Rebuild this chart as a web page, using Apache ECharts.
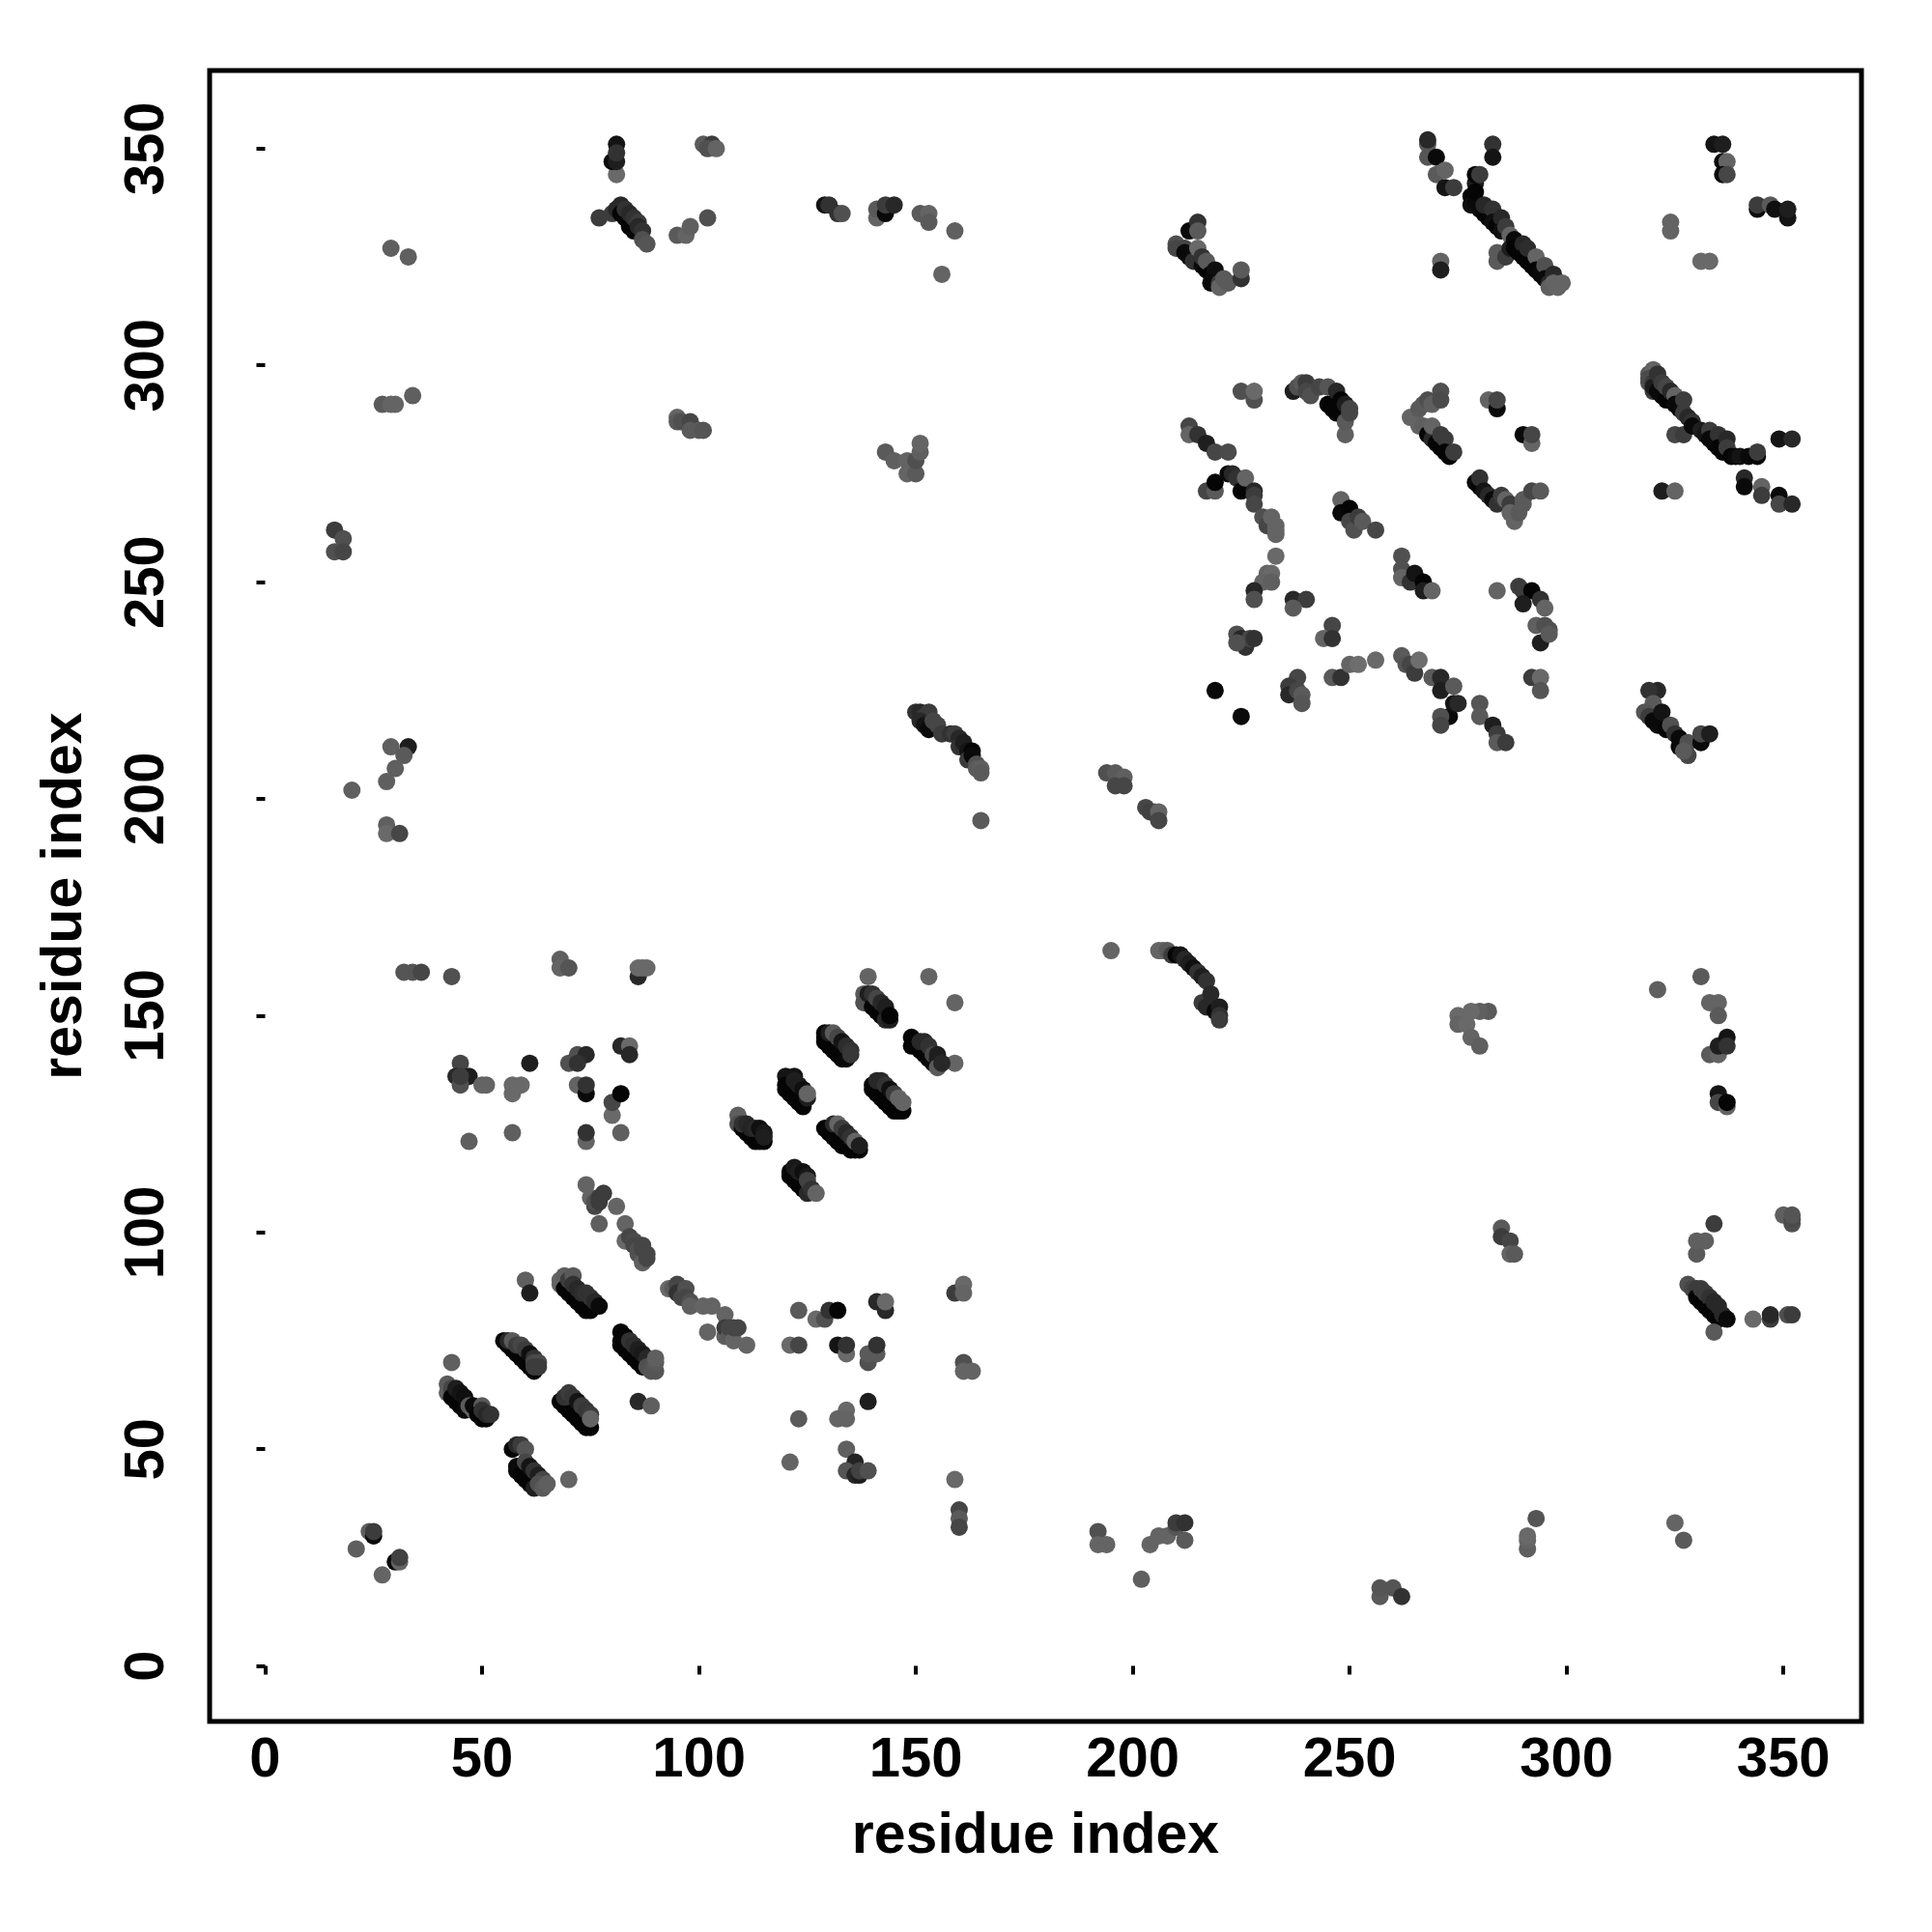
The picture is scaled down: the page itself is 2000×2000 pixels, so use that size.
<!DOCTYPE html>
<html><head><meta charset="utf-8">
<style>html,body{margin:0;padding:0;background:#fff}#c{width:2000px;height:2000px}</style>
<script src="https://cdn.jsdelivr.net/npm/echarts@6/dist/echarts.min.js"></script></head>
<body><div id="c"></div>
<script>
// each point: [residue i, residue j, grey level of the contact]
const tickValues=[0,50,100,150,200,250,300,350];
const strayLowLeft=[[21,27,95],[24,31,95],[25,30,10],[25,31,60],[27,21,100],[30,24,10],[31,24,100],[31,25,65]];
const strandA=[[42,65,90],[42,63,95],[43,64,70],[43,62,5],[44,61,5],[45,60,5],[46,59,10],[44,64,30],[45,63,20],[46,62,15],[47,60,90],[48,59,100],[49,59,80],[48,60,10],[50,60,90],[49,58,5],[50,57,5],[51,57,5],[50,59,50],[51,58,40],[52,58,50],[43,70,95]];
const strandB=[[57,50,5],[58,51,40],[59,51,60],[60,50,85],[58,46,10],[58,45,10],[59,44,5],[60,43,5],[61,42,5],[62,41,30],[60,47,70],[61,46,20],[62,45,50],[63,44,30],[64,43,70],[63,42,80],[64,41,90],[65,42,95],[70,43,100]];
const strandC=[[55,75,5],[56,74,5],[57,73,5],[58,72,5],[59,71,5],[60,70,5],[61,69,5],[62,68,5],[56,75,40],[57,75,90],[58,74,60],[59,74,70],[60,73,60],[61,72,15],[62,71,50],[62,70,70],[63,70,75],[62,69,60],[63,69,60],[60,89,95],[61,86,30]];
const strandD=[[68,88,100],[68,89,100],[69,90,95],[69,87,5],[70,86,5],[71,85,5],[72,84,5],[73,83,5],[74,82,5],[75,82,5],[70,89,60],[71,90,90],[71,88,50],[72,87,40],[73,86,45],[74,86,50],[75,85,50],[76,84,40],[77,83,10]];
const strandE=[[82,77,5],[83,76,5],[82,74,5],[82,75,5],[83,73,5],[84,72,5],[85,71,5],[86,70,5],[87,69,5],[84,75,50],[85,74,45],[86,73,30],[87,72,25],[88,71,40],[88,69,80],[89,68,85],[90,68,85],[90,70,90],[90,71,95],[86,61,40],[89,60,95]];
const strandF=[[68,61,5],[69,60,5],[70,59,5],[71,58,5],[72,57,5],[73,56,5],[74,55,5],[75,55,5],[69,62,50],[70,63,60],[71,62,55],[72,61,20],[73,60,60],[74,59,55],[75,58,60],[75,57,100]];
const arcLow=[[74,111,100],[75,108,100],[76,106,70],[76,107,80],[77,108,60],[78,109,60],[77,107,60],[81,106,100],[77,102,95],[83,102,100],[83,98,105],[84,99,70],[85,98,75],[85,97,70],[86,96,80],[86,95,80],[87,94,85],[87,96,70],[87,97,70],[87,93,95],[88,95,70],[88,94,70],[93,87,105],[94,87,90],[95,88,70],[95,86,50],[96,85,70],[97,87,80],[97,85,70],[98,84,80],[98,83,95],[101,83,100],[103,83,100],[106,81,100],[102,77,100],[106,76,95],[106,78,60],[107,76,90],[107,78,70],[108,75,100],[108,78,70],[109,78,70],[111,74,100]];
const strayMidLeft=[[68,163,95],[68,161,100],[70,161,85],[86,159,40],[86,161,105],[87,161,105],[88,161,105],[139,159,100],[153,159,100],[159,153,100],[159,139,100],[61,139,30],[70,139,80],[72,141,80],[74,141,40],[72,139,50],[82,143,40],[84,143,105],[84,141,40],[51,134,100],[57,134,105],[59,134,105],[57,132,105],[72,134,100],[74,132,10],[74,134,50],[80,127,105],[80,130,70],[82,132,5],[57,123,95],[74,121,100],[74,123,50],[82,123,95],[16,262,60],[18,260,80],[16,257,80],[18,257,70],[20,202,95],[29,212,95],[33,212,30],[32,210,90],[30,207,95],[28,204,95],[28,194,95],[28,192,105],[31,192,70],[29,327,95],[33,325,95],[27,291,90],[29,291,100],[30,291,100],[34,293,95],[32,160,85],[34,160,85],[36,160,70],[43,159,80],[45,139,70],[44,136,40],[47,136,30],[45,134,80],[45,136,60],[47,121,95],[50,134,100]];
const blockA=[[109,127,95],[109,125,80],[110,124,5],[111,123,5],[112,122,5],[113,121,5],[114,121,5],[115,121,5],[110,125,50],[111,125,40],[112,124,35],[113,124,40],[114,124,15],[115,123,25],[115,122,30]];
const blockB=[[120,136,20],[120,134,5],[120,133,5],[121,132,5],[122,131,5],[123,130,5],[124,129,5],[122,136,20],[122,135,30],[123,134,30],[124,133,15],[125,131,30],[125,132,100]];
const blockC=[[121,114,5],[121,113,5],[122,112,5],[123,111,5],[124,110,5],[125,109,40],[122,115,25],[123,114,30],[124,114,15],[125,113,25],[125,112,65],[126,110,50],[127,109,100]];
const blockD=[[129,146,5],[129,145,5],[129,144,5],[130,143,5],[131,142,5],[132,141,5],[133,140,5],[134,140,10],[130,146,30],[131,146,90],[132,145,70],[133,144,20],[134,143,45],[135,142,50],[135,141,55]];
const blockE=[[129,124,5],[130,123,5],[131,122,5],[132,121,5],[133,120,5],[134,120,5],[135,119,5],[136,119,5],[137,119,5],[131,125,40],[132,125,100],[133,124,60],[134,123,40],[135,122,50],[136,121,100],[137,120,30]];
const blockF=[[138,155,90],[138,153,80],[139,155,30],[140,152,5],[141,151,5],[142,150,5],[143,149,40],[144,149,30],[140,155,50],[141,154,70],[142,153,40],[143,152,30],[144,150,5]];
const blockG=[[140,134,5],[140,133,5],[141,132,5],[142,131,5],[143,130,5],[144,129,5],[145,128,5],[146,128,5],[147,128,5],[141,135,40],[142,135,40],[143,134,50],[144,133,15],[145,132,60],[146,131,100],[147,130,100]];
const blockH=[[149,143,5],[149,145,5],[150,143,5],[151,142,5],[152,141,5],[153,140,5],[154,139,10],[151,144,40],[152,144,40],[153,143,50],[154,141,70],[155,141,30],[155,140,30],[155,138,90],[156,139,40]];
const lowMid=[[123,82,90],[127,80,105],[129,80,80],[130,82,50],[132,82,5],[141,84,40],[143,82,40],[143,84,105],[121,74,105],[123,74,70],[132,74,20],[134,72,105],[134,74,50],[139,70,80],[139,72,90],[141,72,90],[141,74,50],[139,61,30],[134,59,105],[132,57,100],[134,57,100],[123,57,90],[121,47,100],[134,50,95],[136,47,35],[134,45,85],[136,44,40],[137,44,30],[137,45,65],[139,45,80],[159,43,105],[159,86,60],[161,88,105],[161,86,100],[161,70,80],[161,68,100],[163,68,100],[160,36,70],[160,34,90],[160,32,70]];
const lowRow=[[192,31,80],[192,28,100],[194,28,100],[202,20,95],[204,28,100],[206,30,100],[208,30,100],[210,32,85],[210,33,60],[212,29,90],[212,33,50],[257,16,90],[257,18,85],[260,18,85],[262,16,50],[291,27,95],[291,29,100],[291,30,105],[293,34,85],[325,33,100],[327,29,90],[285,101,90],[285,99,60],[287,98,70],[287,95,100],[288,95,90],[334,102,60],[330,95,90],[330,98,95],[332,98,95],[350,104,95],[352,102,80],[352,103,75],[352,104,85]];
const lowRight=[[328,88,80],[329,87,70],[330,87,60],[330,85,5],[331,84,5],[332,83,5],[331,87,60],[332,86,60],[333,85,50],[333,82,5],[334,81,5],[335,80,5],[334,84,40],[335,83,40],[336,81,40],[337,80,10],[334,77,90],[343,80,105],[347,80,60],[347,81,40],[351,81,80],[352,81,60]];
const rightColumn=[[331,159,90],[333,153,100],[335,153,100],[335,150,90],[321,156,95],[333,141,90],[335,141,100],[335,143,30],[337,145,20],[337,143,50],[335,132,20],[335,130,70],[337,129,100],[337,130,5],[282,151,90],[280,151,95],[278,151,105],[275,150,105],[275,148,100],[277,148,105],[278,145,100],[280,143,95]];
const midDiag=[[195,165,100],[206,165,100],[207,165,100],[208,165,90],[209,164,60],[210,164,5],[211,164,20],[212,163,40],[213,162,30],[214,161,15],[215,160,50],[216,159,30],[217,158,50],[216,153,60],[217,152,40],[218,155,40],[219,151,10],[220,152,30],[220,150,50],[220,149,60]];
const upperMid=[[194,206,80],[196,206,90],[198,205,95],[196,203,70],[198,203,70],[203,198,70],[205,197,90],[204,197,65],[206,197,100],[206,195,70],[150,220,50],[151,220,40],[152,219,60],[153,220,60],[151,218,40],[152,217,20],[153,216,10],[154,218,70],[155,217,70],[156,215,60],[158,215,50],[159,215,60],[160,214,40],[160,212,50],[161,213,30],[162,211,20],[163,211,5],[162,209,60],[163,210,10],[164,208,80],[164,207,90],[165,207,95],[165,206,90],[165,195,90]];
const topLeft=[[77,334,60],[81,344,105],[80,347,10],[81,347,30],[81,351,20],[81,349,50],[80,335,60],[81,336,40],[82,337,40],[82,335,5],[83,334,5],[84,332,5],[85,331,5],[83,336,50],[84,335,40],[85,334,50],[86,333,60],[86,332,40],[87,331,50],[87,329,80],[88,328,85],[95,330,90],[97,330,100],[98,332,95],[102,334,80],[101,351,90],[103,351,60],[102,350,80],[104,350,100],[129,337,20],[130,337,50],[132,335,50],[133,335,80],[141,334,100],[141,336,90],[143,335,10],[143,337,60],[145,337,40],[151,335,90],[153,335,100],[153,333,90],[159,331,95],[156,321,100],[95,288,100],[95,287,90],[96,287,80],[98,287,70],[98,285,90],[100,285,90],[101,285,85],[143,280,90],[145,278,95],[148,278,100],[148,275,100],[150,275,90],[150,278,80],[151,280,95],[151,282,100]];
const helixUpper=[[225,294,80],[228,292,80],[228,294,105],[237,294,30],[238,295,80],[239,296,90],[240,296,60],[240,294,70],[241,293,80],[243,295,70],[245,295,85],[245,291,5],[246,290,5],[247,289,5],[247,294,40],[248,292,5],[249,291,30],[249,284,95],[249,287,90],[250,290,70],[250,289,70],[213,286,70],[213,284,100],[215,284,50],[217,282,30],[219,280,70],[222,280,75]];
const helixCurve=[[217,271,70],[219,271,90],[219,273,5],[222,275,10],[223,275,40],[224,274,50],[225,271,5],[226,274,100],[228,271,40],[228,270,60],[228,268,70],[230,265,80],[231,263,70],[232,265,100],[233,263,100],[233,262,100],[233,261,100],[233,256,105],[231,252,100],[232,252,105],[230,250,100],[232,250,95],[228,248,40],[228,246,80],[237,246,40],[240,246,60],[237,244,90],[246,240,70],[244,237,100],[246,237,50],[224,238,80],[225,237,40],[226,235,50],[227,237,70],[228,237,50],[224,236,80]];
const arcMiddle=[[219,225,10],[225,219,10],[238,228,70],[236,226,60],[236,224,40],[238,225,70],[239,224,90],[239,222,85],[246,228,90],[248,228,50],[250,231,100],[252,231,110],[256,232,105],[262,233,90],[263,231,85],[264,231,70],[265,229,60],[266,232,110],[269,228,90],[271,228,40],[271,225,30],[274,226,90],[273,219,10],[271,219,80],[271,217,70],[274,222,20],[275,222,40],[280,222,85],[280,219,90],[283,217,30],[284,215,60],[284,213,90],[286,213,60],[292,228,60],[294,228,105],[294,225,85]];
const helixCentral=[[264,288,100],[265,288,100],[266,290,90],[267,291,90],[268,292,80],[269,291,95],[271,294,80],[271,292,75],[266,286,100],[267,286,95],[268,284,5],[269,283,40],[269,286,100],[270,282,5],[271,281,5],[271,284,60],[272,283,60],[272,280,5],[273,279,5],[274,280,60],[282,292,100],[284,290,10],[284,292,70],[290,284,10],[292,282,100],[292,284,70],[279,273,10],[280,272,5],[280,274,50],[281,271,20],[282,270,40],[283,269,10],[284,268,50],[285,270,60],[286,269,100],[287,268,60],[287,266,100],[288,264,100],[289,266,90],[290,269,90],[290,268,90],[292,271,70],[294,271,90]];
const strandLower=[[248,269,100],[248,266,10],[250,267,5],[250,264,70],[251,262,80],[252,265,60],[253,264,90],[256,262,70],[262,256,80],[262,253,80],[262,251,100],[264,250,50],[265,252,20],[267,250,5],[267,248,30],[269,248,100],[284,248,100],[289,249,60],[290,248,60],[292,248,5],[290,245,30],[294,246,50],[295,244,100],[294,236,30],[293,240,95],[295,240,80],[296,239,80],[296,238,90]];
const helixRightLow=[[321,225,40],[319,225,50],[320,222,90],[318,220,85],[319,219,60],[320,218,10],[321,217,10],[322,220,20],[323,216,5],[324,217,80],[325,215,50],[326,212,10],[326,214,10],[328,213,80],[328,210,70],[327,211,90],[331,213,10],[331,215,70],[333,215,30]];
const diagTopA=[[210,328,80],[210,327,70],[212,327,70],[212,326,10],[213,331,10],[213,325,10],[214,324,50],[215,333,50],[215,331,90],[215,327,105],[216,323,10],[216,325,50],[217,322,5],[217,324,90],[218,321,5],[219,322,15],[218,319,10],[220,319,60],[220,318,100],[221,320,90],[222,319,90],[225,320,50],[225,322,90]];
const diagTopB=[[268,351,90],[268,352,40],[268,348,85],[270,348,10],[270,344,90],[272,345,100],[272,341,20],[274,341,60],[271,324,100],[271,322,30],[283,351,50],[283,348,20],[278,339,5],[278,337,15],[279,338,10],[279,342,30],[279,340,5],[279,344,5],[280,344,60],[280,336,10],[281,335,5],[282,334,5],[281,337,40],[283,336,50],[283,333,15],[284,332,5],[285,334,40],[285,331,15],[286,332,60],[287,330,100],[284,326,90],[284,324,90],[286,325,60],[287,327,30],[288,329,10],[288,327,5],[289,326,5],[290,328,40],[290,325,5],[291,324,5],[291,327,45],[292,323,5],[293,325,100],[293,322,5],[294,321,10],[295,323,80],[295,320,10],[296,319,40],[297,321,40],[296,318,95],[297,319,100],[298,318,100],[299,319,100]];
const topRight=[[324,333,100],[324,331,100],[331,324,105],[333,324,105],[334,351,20],[336,351,30],[336,347,10],[337,347,100],[336,344,10],[337,344,70],[344,336,10],[344,337,60],[347,337,90],[348,336,15],[351,334,20],[351,336,30]];
const diagRight=[[319,298,90],[319,296,80],[320,299,100],[320,294,60],[319,297,75],[320,296,60],[320,295,30],[321,294,10],[322,293,10],[323,292,5],[321,298,50],[322,296,60],[323,295,70],[324,294,40],[325,293,100],[325,291,10],[326,290,10],[327,292,60],[327,289,60],[328,288,40],[329,287,50],[325,284,70],[327,284,60],[329,286,10],[331,285,30],[332,284,20],[333,285,60],[333,283,10],[334,282,10],[335,284,50],[335,281,5],[336,280,5],[337,283,40],[337,281,60],[338,279,5],[339,279,10],[340,279,20],[342,279,10],[344,279,5],[344,280,60],[349,283,20],[352,283,40],[322,271,30],[325,271,100],[341,274,40],[341,272,10],[345,272,100],[345,270,60],[349,270,10],[349,268,70],[352,268,40]];

const points=[].concat(strayLowLeft,strandA,strandB,strandC,strandD,strandE,strandF,arcLow,strayMidLeft,blockA,blockB,blockC,blockD,blockE,blockF,blockG,blockH,lowMid,lowRow,lowRight,rightColumn,midDiag,upperMid,topLeft,helixUpper,helixCurve,arcMiddle,helixCentral,strandLower,helixRightLow,diagTopA,diagTopB,topRight,diagRight);
const font='"Liberation Sans", Helvetica, Arial, sans-serif';
const chart=echarts.init(document.getElementById('c'),null,{renderer:'canvas'});
function axis(rotate,nameGap,margin,nameRotate){
  return {type:'value',min:-12.8,max:368,name:'residue index',nameLocation:'middle',nameGap:nameGap,nameRotate:nameRotate,
    nameTextStyle:{fontFamily:font,fontWeight:'bold',fontSize:59,color:'#000'},
    axisLine:{show:false},splitLine:{show:false},
    axisTick:{show:true,length:9,inside:false,lineStyle:{color:'#000',width:4},customValues:tickValues},
    axisLabel:{show:true,rotate:rotate,margin:margin,fontFamily:font,fontWeight:'bold',fontSize:58,color:'#000',customValues:tickValues,
      hideOverlap:false,showMinLabel:true,showMaxLabel:true}};
}
chart.setOption({animation:false,backgroundColor:'#fff',
  grid:{left:217,right:73,top:73,bottom:218,show:true,borderColor:'#000',borderWidth:5,backgroundColor:'transparent',containLabel:false},
  xAxis:axis(0,90,12),
  yAxis:axis(90,120,35,90),
  series:[{type:'scatter',data:points,symbol:'circle',symbolSize:18,encode:{x:0,y:1},clip:false,
    itemStyle:{opacity:1,color:p=>{const g=p.value[2];return 'rgb('+g+','+g+','+g+')';}}}]
});
</script></body></html>
